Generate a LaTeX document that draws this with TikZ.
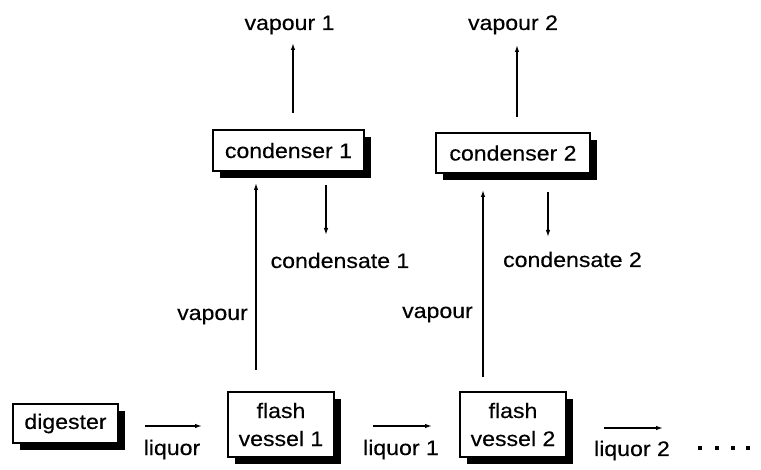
\documentclass[tikz,border=0pt]{standalone}
\usepackage{fontspec}
\setmainfont[FakeStretch=1.1,FakeBold=0.3]{Liberation Sans}
\usetikzlibrary{shadows,arrows.meta}
\begin{document}
\begin{tikzpicture}[x=1pt,y=-1pt, font=\fontsize{21}{28}\selectfont,
  box/.style={draw, line width=1.4pt, fill=white, inner sep=0pt, align=center,
    drop shadow={shadow xshift=7pt, shadow yshift=-7pt, fill=black, opacity=1}},
  arr/.style={line width=1.3pt, -{Latex[length=7pt,width=4.5pt]}},
  lbl/.style={inner sep=0pt, anchor=base}]
\useasboundingbox (0,0) rectangle (761,470);
% boxes
\node[box, minimum width=151pt, minimum height=41pt] (c1) at (288.5,150.5) {condenser 1};
\node[box, minimum width=154pt, minimum height=40pt] (c2) at (513,153) {condenser 2};
\node[box, minimum width=105pt, minimum height=39pt] (dg) at (65.5,423.5) {digester};
\node[box, minimum width=106pt, minimum height=65pt] (f1) at (281,424.5) {flash\\vessel 1};
\node[box, minimum width=106pt, minimum height=65pt] (f2) at (513,424.5) {flash\\vessel 2};
% labels
\node[lbl] (v1) at (289.5,30) {vapour 1};
\node[lbl] (v2) at (513,30) {vapour 2};
\node[lbl] (cd1) at (340,268) {condensate 1};
\node[lbl] (cd2) at (572.5,267) {condensate 2};
\node[lbl] (vp1) at (212.5,320) {vapour};
\node[lbl] (vp2) at (437.5,318) {vapour};
\node[lbl] (lq) at (172,455) {liquor};
\node[lbl] (lq1) at (401,455) {liquor 1};
\node[lbl] (lq2) at (632,456) {liquor 2};
% arrow end points
\coordinate (a1s) at (293,113); \coordinate (a1e) at (293,43);
\coordinate (a2s) at (517,117); \coordinate (a2e) at (517,45);
\coordinate (b1s) at (256,370); \coordinate (b1e) at (256,183);
\coordinate (b2s) at (483,377); \coordinate (b2e) at (483,190);
\coordinate (d1s) at (326,185); \coordinate (d1e) at (326,235);
\coordinate (d2s) at (548,192); \coordinate (d2e) at (548,237);
\coordinate (h0s) at (145,426); \coordinate (h0e) at (202,426);
\coordinate (h1s) at (373,426); \coordinate (h1e) at (432,426);
\coordinate (h2s) at (604,428); \coordinate (h2e) at (663,428);
\foreach \s/\e in {a1s/a1e,a2s/a2e,b1s/b1e,b2s/b2e,d1s/d1e,d2s/d2e,h0s/h0e,h1s/h1e,h2s/h2e}
  \draw[arr] (\s) -- (\e);
% trailing dots
\foreach \x in {700,717,733,748}
  \fill (\x-2,446) rectangle (\x+2,450);
\end{tikzpicture}
\end{document}
